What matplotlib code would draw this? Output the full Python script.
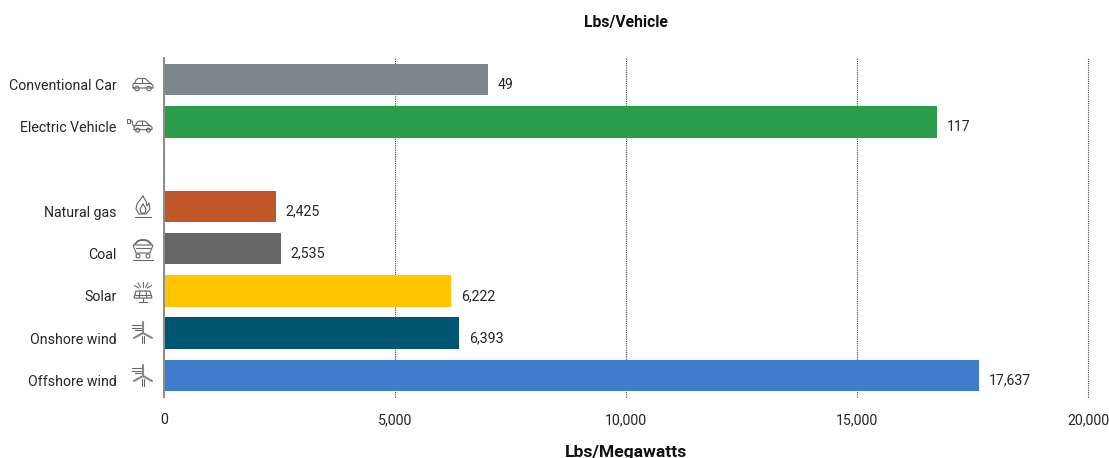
import matplotlib.pyplot as plt
from matplotlib.patches import Circle, Polygon, Rectangle
from matplotlib.transforms import ScaledTranslation
import numpy as np

# === Data ===
categories = ["Conventional Car", "Electric Vehicle", "", "Natural gas", "Coal",
              "Solar", "Onshore wind", "Offshore wind"]
bar_values = [7007, 16731, 0, 2425, 2535, 6222, 6393, 17637]
bar_labels = ["49", "117", "", "2,425", "2,535", "6,222", "6,393", "17,637"]
bar_colors = ["#7f878e", "#2a9d4c", "none", "#c05728", "#666666", "#ffc600", "#00556f", "#3f7ccb"]
x_ticks = [0, 5000, 10000, 15000, 20000]
x_tick_labels = ["0", "5,000", "10,000", "15,000", "20,000"]

plt.rcParams["font.family"] = ["Roboto", "DejaVu Sans"]

W, H = 1109, 458
TXT = "#262626"
ICON = "#666666"
FS = 10.2

fig = plt.figure(figsize=(W / 100, H / 100), dpi=100)
ax = fig.add_axes([163.8 / W, 1 - 397 / H, 924.4 / W, 339 / H])

# === Bars ===
y = np.arange(len(categories))
ax.barh(y, bar_values, height=0.745, color=bar_colors, linewidth=0)
ax.set_xlim(0, 20000)
ax.set_ylim(7.508, -0.508)

for yi, v, lab in zip(y, bar_values, bar_labels):
    if lab:
        ax.text(v + 210, yi + 0.12, lab, va="center", ha="left", fontsize=FS, color=TXT)

# === Axes ===
for s in ["top", "right", "bottom"]:
    ax.spines[s].set_visible(False)
ax.spines["left"].set_color("#8c8c8c")
ax.spines["left"].set_linewidth(1.4)
ax.xaxis.grid(True, linestyle=(0, (1, 1)), color="#444444", linewidth=0.8)
for gl in ax.get_xgridlines():
    gl.set_clip_on(False)
ax.set_axisbelow(True)
ax.set_xticks(x_ticks)
ax.set_xticklabels(x_tick_labels, fontsize=FS, color=TXT)
ax.tick_params(axis="x", length=0, pad=11.5)
ax.set_yticks(y)
ax.set_yticklabels(categories, fontsize=FS, color=TXT)
ax.tick_params(axis="y", length=0, pad=34)
# labels sit a little under the bar centre in the original
shift = ScaledTranslation(0, -5 / 100, fig.dpi_scale_trans)
for lab in ax.get_yticklabels():
    lab.set_transform(lab.get_transform() + shift)

fig.text(626 / W, 1 - 22.5 / H, "Lbs/Vehicle", ha="center", va="center", fontsize=11.3, fontweight="bold", color="#111111")
fig.text(626 / W, 1 - 452 / H, "Lbs/Megawatts", ha="center", va="center", fontsize=12.6, fontweight="bold", color="#111111")

# === Icons, on an overlay in pixel coordinates ===
ov = fig.add_axes([0, 0, 1, 1], facecolor="none")
ov.set_xlim(0, W)
ov.set_ylim(H, 0)
ov.axis("off")


def ln(xs, ys, lw=0.8, color=ICON):
    ov.plot(xs, ys, color=color, lw=lw, solid_capstyle="round")


def car(cx, cy, s=1.0):
    ln(np.array([-10, -10, -8, -7, -5, 2, 5, 8, 10, 10, -10]) * s + cx,
       np.array([3, -1, -2, -5, -6.5, -6.5, -4, -1, 0, 3, 3]) * s + cy)
    ln(np.array([-9, 8]) * s + cx, np.array([-2, -2]) * s + cy)
    ln(np.array([-1, -1]) * s + cx, np.array([-6.5, -2]) * s + cy)
    for dx in (-6, 6):
        ov.add_patch(Circle((cx + dx * s, cy + 3.5 * s), 2.2 * s, fc="white", ec=ICON, lw=0.8))


def flame(cx, cy):
    ln(np.array([0, -6, -7, -4, 3, 7, 6, 4, 3, 1, 0]) + cx, np.array([-11, -3, 2, 7, 7, 2, -4, -1, -6, -9, -11]) + cy)
    ln(np.array([0, -3, -2, 2, 3, 0]) + cx, np.array([-3, 2, 6, 6, 2, -3]) + cy)
    ln([cx - 8, cx + 8], [cy + 10, cy + 10])


def cart(cx, cy):
    ln(np.array([-8, -5, -2, 2, 5, 8]) + cx, np.array([-5, -8, -9, -9, -8, -5]) + cy, lw=1.3)
    ov.add_patch(Polygon([(cx - 10, cy - 4), (cx + 10, cy - 4), (cx + 7, cy + 4), (cx - 7, cy + 4)], fc="white", ec=ICON, lw=0.8))
    ln([cx - 7, cx + 7], [cy - 1, cy - 1])
    for dx in (-5, 5):
        ov.add_patch(Circle((cx + dx, cy + 7), 2, fc="white", ec=ICON, lw=0.8))
    ln([cx - 10, cx + 10], [cy + 11, cy + 11])


def solar(cx, cy):
    ov.add_patch(Polygon([(cx - 7, cy - 1), (cx + 7, cy - 1), (cx + 9, cy + 6), (cx - 9, cy + 6)], fc="white", ec=ICON, lw=0.8))
    ln([cx - 8, cx + 8], [cy + 2.5, cy + 2.5])
    for dx in (-3, 3):
        ln([cx + dx, cx + dx * 1.3], [cy - 1, cy + 6])
    ln([cx, cx], [cy + 6, cy + 10])
    ln([cx - 4, cx + 4], [cy + 10, cy + 10])
    for a in (-60, -30, 0, 30, 60):
        t = np.radians(a)
        ln([cx + 5 * np.sin(t), cx + 10 * np.sin(t)], [cy - 3 - 2 * np.cos(t), cy - 3 - 7 * np.cos(t)])


def turbine(cx, cy):
    for dy, x0 in zip((-8, -5.5, -3), (-11, -11, -8)):
        ln([cx + x0, cx - 2], [cy + dy, cy + dy])
    ln([cx, cx], [cy - 11, cy - 1], lw=1.5, color="#888888")
    ln([cx, cx - 9], [cy, cy + 5], lw=1.5, color="#888888")
    ln([cx, cx + 9], [cy, cy + 5], lw=1.5, color="#888888")
    ln([cx - 1, cx - 1], [cy + 3, cy + 10])
    ln([cx + 1, cx + 1], [cy + 3, cy + 10])


def ev(cx, cy):
    car(cx + 3, cy, 0.9)
    ln([cx - 10, cx - 8, cx - 7, cx - 5], [cy - 6, cy - 6, cy - 2, cy])
    ov.add_patch(Rectangle((cx - 13, cy - 8), 2.5, 3.5, fc="white", ec=ICON, lw=0.7))


car(143, 85)
ev(140, 127)
flame(143, 207)
cart(143, 249)
solar(143, 292)
turbine(143, 333)
turbine(143, 376)

fig.savefig("out.png", dpi=100)
